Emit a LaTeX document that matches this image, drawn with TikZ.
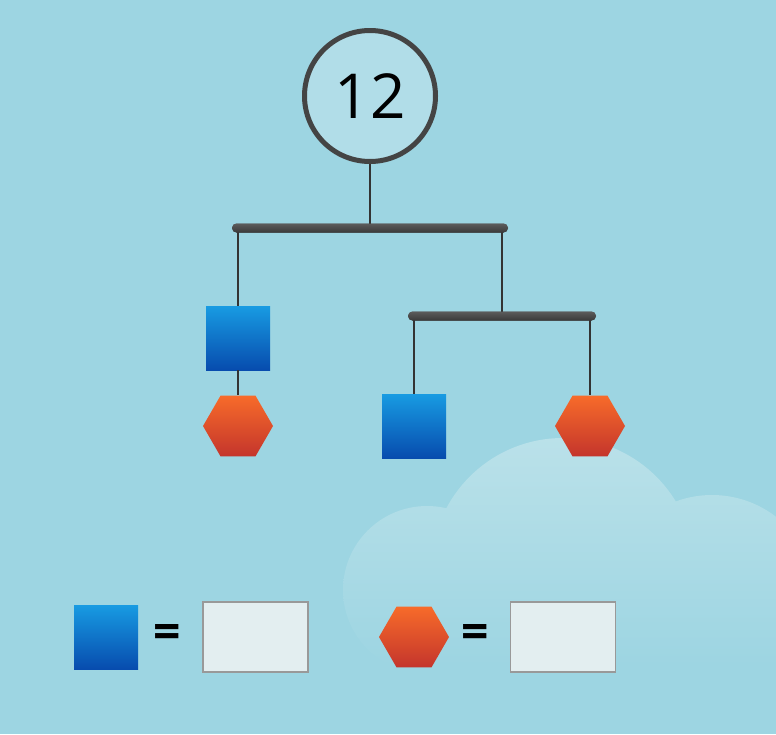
\documentclass[tikz,border=0pt]{standalone}
\usepackage{fontspec}
\setmainfont{Open Sans}
\usetikzlibrary{shapes.geometric,positioning}

\definecolor{sky}{HTML}{9DD5E2}
\definecolor{cloudtop}{HTML}{BAE1E9}
\definecolor{ring}{HTML}{444444}
\definecolor{string}{HTML}{333333}
\definecolor{bluetop}{HTML}{189BE2}
\definecolor{bluebot}{HTML}{074CAE}
\definecolor{redtop}{HTML}{F76B2A}
\definecolor{redbot}{HTML}{C4352C}
\definecolor{answer}{HTML}{E3EEF0}

\begin{document}
\begin{tikzpicture}[
    x=1pt, y=-1pt,
    total/.style={draw=ring, line width=5pt, circle, fill=sky!80!white, minimum size=131pt, inner sep=0pt, font=\fontsize{62}{62}\selectfont},
    bar/.style={rectangle, rounded corners=4.5pt, top color=gray!72!black, bottom color=gray!45!black, draw=none, minimum height=9pt, inner sep=0pt},
    square/.style={rectangle, top color=bluetop, bottom color=bluebot, minimum size=64pt, inner sep=0pt},
    hexa/.style={regular polygon, regular polygon sides=6, top color=redtop, bottom color=redbot, minimum size=70pt, inner sep=0pt},
    answerbox/.style={rectangle, draw=gray!80, line width=1.5pt, fill=answer, minimum width=105pt, minimum height=70pt, inner sep=0pt},
    equals/.style={inner sep=0pt, font=\fontsize{48}{48}\selectfont\bfseries},
    wire/.style={draw=string, line width=1.6pt},
    cloud/.style={top color=cloudtop, bottom color=sky}
]

% Sky and cloud
\useasboundingbox (0,0) rectangle (776,734);
\fill[sky] (0,0) rectangle (776,734);
\begin{scope}
  \clip (563,570) circle[radius=132] (427,590) circle[radius=84] (712,600) circle[radius=105]
        (560,625) circle[radius=125];
  \shade[cloud] (343,438) rectangle (776,665);
\end{scope}

% Mobile
\node[total] (sum) at (370,96) {12};
\node[bar, minimum width=276pt] (bartop) at (370,228) {};
\node[bar, minimum width=188pt] (barright) at (502,316) {};

\node[square] (sqA) at (238,338) {};
\node[hexa] (hexA) at (238,426) {};
\node[square] (sqB) at (414,426) {};
\node[hexa] (hexB) at (590,426) {};

\draw[wire] (sum.south) -- (bartop.center);
\draw[wire] (bartop.center -| sqA.north) -- (sqA.north);
\draw[wire] (sqA.south) -- (hexA.north);
\draw[wire] (bartop.center -| barright.north) -- (barright.center);
\draw[wire] (barright.center -| sqB.north) -- (sqB.north);
\draw[wire] (barright.center -| hexB.north) -- (hexB.north);

% redraw bars over wire ends
\node[bar, minimum width=276pt] at (bartop) {};
\node[bar, minimum width=188pt] at (barright) {};

% Answers
\node[square] (keysq) at (106,637) {};
\node[equals] (eqsq) at (167,636) {=};
\node[answerbox] (boxsq) at (255.5,637) {};

\node[hexa] (keyhex) at (414,637) {};
\node[equals] (eqhex) at (475,636) {=};
\node[answerbox] (boxhex) at (563,637) {};

\end{tikzpicture}
\end{document}
